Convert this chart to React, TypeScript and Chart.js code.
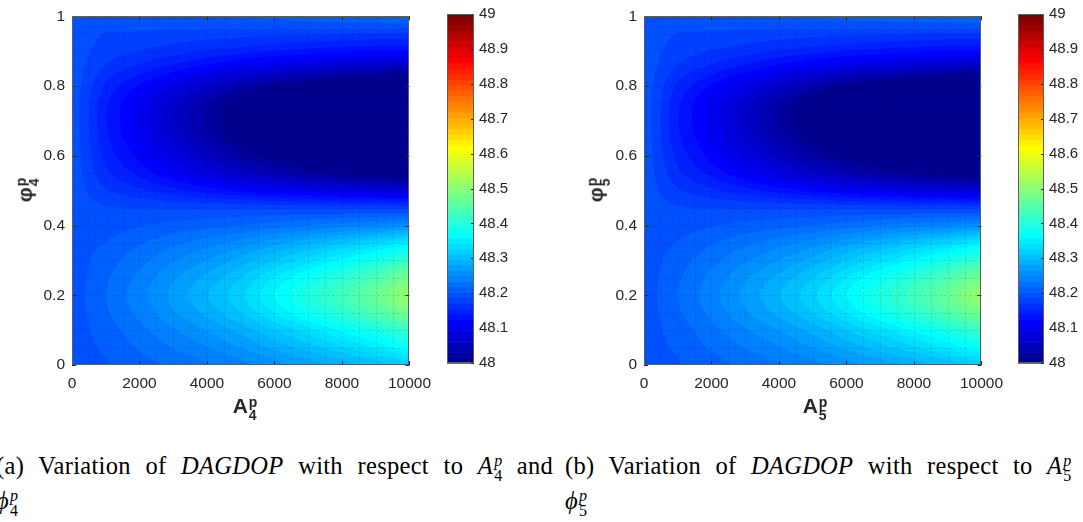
import React, { useEffect, useRef } from "react";
import { Chart, registerables } from "chart.js";

Chart.register(...registerables);

// ---------- data ----------
const A_VALUES = [0, 1000, 2000, 3000, 4000, 5000, 6000, 7000, 8000, 9000, 10000];
const PHI_VALUES = [0, 0.05, 0.1, 0.15, 0.2, 0.25, 0.3, 0.35, 0.4, 0.45, 0.5, 0.55, 0.6, 0.65, 0.7, 0.75, 0.8, 0.85, 0.9, 0.95, 1];

// DAGDOP values, one row per phi value (bottom to top), one column per A value
const DAGDOP_A = [
  [48.196, 48.202, 48.212, 48.223, 48.233, 48.245, 48.259, 48.273, 48.288, 48.303, 48.32],
  [48.196, 48.206, 48.221, 48.235, 48.249, 48.266, 48.285, 48.305, 48.325, 48.347, 48.37],
  [48.196, 48.211, 48.229, 48.248, 48.266, 48.287, 48.312, 48.337, 48.363, 48.39, 48.42],
  [48.196, 48.216, 48.239, 48.263, 48.286, 48.312, 48.344, 48.376, 48.408, 48.442, 48.48],
  [48.196, 48.219, 48.244, 48.27, 48.296, 48.324, 48.36, 48.395, 48.43, 48.468, 48.51],
  [48.196, 48.216, 48.239, 48.263, 48.286, 48.312, 48.344, 48.376, 48.408, 48.442, 48.48],
  [48.196, 48.211, 48.229, 48.248, 48.266, 48.287, 48.312, 48.337, 48.363, 48.39, 48.42],
  [48.196, 48.204, 48.217, 48.23, 48.243, 48.257, 48.275, 48.292, 48.31, 48.329, 48.35],
  [48.196, 48.196, 48.202, 48.208, 48.213, 48.219, 48.227, 48.235, 48.243, 48.251, 48.26],
  [48.196, 48.189, 48.187, 48.186, 48.185, 48.184, 48.183, 48.182, 48.181, 48.181, 48.18],
  [48.196, 48.174, 48.16, 48.147, 48.134, 48.122, 48.111, 48.102, 48.093, 48.087, 48.08],
  [48.196, 48.16, 48.136, 48.112, 48.088, 48.066, 48.046, 48.03, 48.014, 48.002, 47.99],
  [48.196, 48.151, 48.12, 48.089, 48.057, 48.029, 48.003, 47.982, 47.961, 47.946, 47.93],
  [48.196, 48.145, 48.109, 48.073, 48.037, 48.004, 47.974, 47.95, 47.926, 47.908, 47.89],
  [48.196, 48.142, 48.104, 48.065, 48.027, 47.992, 47.96, 47.934, 47.908, 47.889, 47.87],
  [48.196, 48.144, 48.106, 48.069, 48.032, 47.998, 47.967, 47.942, 47.917, 47.899, 47.88],
  [48.196, 48.153, 48.123, 48.093, 48.063, 48.035, 48.01, 47.99, 47.97, 47.955, 47.94],
  [48.196, 48.168, 48.15, 48.132, 48.114, 48.097, 48.082, 48.07, 48.058, 48.049, 48.04],
  [48.196, 48.18, 48.171, 48.163, 48.154, 48.147, 48.14, 48.134, 48.128, 48.124, 48.12],
  [48.196, 48.187, 48.185, 48.182, 48.18, 48.178, 48.176, 48.174, 48.172, 48.171, 48.17],
  [48.196, 48.197, 48.199, 48.201, 48.203, 48.205, 48.207, 48.209, 48.213, 48.216, 48.22],
];
// panel (b) reads the same as panel (a)
const DAGDOP_B = DAGDOP_A;

const MESH_A = [0, 500, 1000, 1500, 2000, 2500, 3000, 3500, 4000, 4500, 5000, 5500, 6000, 6500, 7000, 7500, 8000, 8500, 9000, 9500, 10000];
const MESH_PHI = [0, 0.05, 0.1, 0.15, 0.2, 0.25, 0.3, 0.35, 0.4, 0.45, 0.5, 0.55, 0.6, 0.65, 0.7, 0.75, 0.8, 0.85, 0.9, 0.95, 1];

const X_TICKS = [0, 2000, 4000, 6000, 8000, 10000];
const Y_TICKS = [0, 0.2, 0.4, 0.6, 0.8, 1];
const CBAR_TICKS = [48, 48.1, 48.2, 48.3, 48.4, 48.5, 48.6, 48.7, 48.8, 48.9, 49];
const C_MIN = 48;
const C_MAX = 49;

// ---------- styling ----------
const SANS = "'Liberation Sans', Arial, Helvetica, sans-serif";
const SERIF = "'Liberation Serif', 'Times New Roman', serif";
const TEXT_COLOR = "#262626";
const BOX_COLOR = "#5e5e5e";
const N_COLORS = 64;

function jet(k: number): [number, number, number] {
  const i = k + 1;
  let r = 0, g = 0, b = 0;
  if (i <= 8) b = 0.5 + 0.0625 * i;
  else if (i <= 24) b = 1;
  else if (i <= 40) b = 1 - 0.0625 * (i - 24);
  if (i >= 9 && i <= 24) g = 0.0625 * (i - 8);
  else if (i > 24 && i <= 40) g = 1;
  else if (i > 40 && i <= 56) g = 1 - 0.0625 * (i - 40);
  if (i >= 25 && i <= 40) r = 0.0625 * (i - 24);
  else if (i > 40 && i <= 56) r = 1;
  else if (i > 56) r = 1 - 0.0625 * (i - 56);
  return [Math.round(r * 255), Math.round(g * 255), Math.round(b * 255)];
}

function colorIndex(v: number) {
  let k = Math.floor(((v - C_MIN) / (C_MAX - C_MIN)) * N_COLORS);
  if (k < 0) k = 0;
  if (k > N_COLORS - 1) k = N_COLORS - 1;
  return k;
}

// locate a value inside a sorted grid: returns [cell index, fraction]
function locate(grid: number[], v: number): [number, number] {
  const n = grid.length;
  if (v <= grid[0]) return [0, 0];
  if (v >= grid[n - 1]) return [n - 2, 1];
  let i = 0;
  while (i < n - 2 && v > grid[i + 1]) i++;
  return [i, (v - grid[i]) / (grid[i + 1] - grid[i])];
}

function cr(p0: number, p1: number, p2: number, p3: number, t: number) {
  return 0.5 * (2 * p1 + (-p0 + p2) * t + (2 * p0 - 5 * p1 + 4 * p2 - p3) * t * t + (-p0 + 3 * p1 - 3 * p2 + p3) * t * t * t);
}

function sample(values: number[][], j: number, fy: number, i: number, fx: number) {
  const nr = values.length, nc = values[0].length;
  const row = (r: number) => {
    const rr = Math.min(nr - 1, Math.max(0, r));
    const v = values[rr];
    const c = (k: number) => v[Math.min(nc - 1, Math.max(0, k))];
    return cr(c(i - 1), c(i), c(i + 1), c(i + 2), fx);
  };
  return cr(row(j - 1), row(j), row(j + 1), row(j + 2), fy);
}

function heatmapPlugin(values: number[][]) {
  return {
    id: "heatmap",
    beforeDatasetsDraw(chart: any) {
      const { ctx, chartArea: ca, scales } = chart;
      const xs = scales.x, ys = scales.y;
      const W = Math.round(ca.right - ca.left);
      const H = Math.round(ca.bottom - ca.top);
      const off = document.createElement("canvas");
      off.width = W;
      off.height = H;
      const octx = off.getContext("2d")!;
      const img = octx.createImageData(W, H);
      const d = img.data;
      const colLoc: [number, number][] = [];
      for (let px = 0; px < W; px++) colLoc.push(locate(A_VALUES, xs.getValueForPixel(ca.left + px + 0.5)));
      for (let py = 0; py < H; py++) {
        const [j, fy] = locate(PHI_VALUES, ys.getValueForPixel(ca.top + py + 0.5));
        for (let px = 0; px < W; px++) {
          const [i, fx] = colLoc[px];
          const v = sample(values, j, fy, i, fx);
          const c = jet(colorIndex(v));
          const o = (py * W + px) * 4;
          d[o] = c[0]; d[o + 1] = c[1]; d[o + 2] = c[2]; d[o + 3] = 255;
        }
      }
      octx.putImageData(img, 0, 0);
      ctx.save();
      ctx.drawImage(off, ca.left, ca.top);
      ctx.restore();
    },
    afterDatasetsDraw(chart: any) {
      const { ctx, chartArea: ca, scales } = chart;
      const xs = scales.x, ys = scales.y;
      ctx.save();
      // faint mesh lines of the surface
      ctx.strokeStyle = "rgba(0,0,0,0.11)";
      ctx.lineWidth = 1;
      ctx.setLineDash([3, 2]);
      for (const a of MESH_A) {
        const px = Math.round(xs.getPixelForValue(a)) + 0.5;
        if (px <= ca.left + 1 || px >= ca.right - 1) continue;
        ctx.beginPath(); ctx.moveTo(px, ca.top); ctx.lineTo(px, ca.bottom); ctx.stroke();
      }
      for (const p of MESH_PHI) {
        const py = Math.round(ys.getPixelForValue(p)) + 0.5;
        if (py <= ca.top + 1 || py >= ca.bottom - 1) continue;
        ctx.beginPath(); ctx.moveTo(ca.left, py); ctx.lineTo(ca.right, py); ctx.stroke();
      }
      ctx.setLineDash([]);
      // inward tick marks on all four sides
      ctx.strokeStyle = "#262626";
      const TL = 4;
      for (const t of X_TICKS) {
        const px = Math.round(xs.getPixelForValue(t)) + 0.5;
        ctx.beginPath(); ctx.moveTo(px, ca.bottom); ctx.lineTo(px, ca.bottom - TL); ctx.stroke();
        ctx.beginPath(); ctx.moveTo(px, ca.top); ctx.lineTo(px, ca.top + TL); ctx.stroke();
      }
      for (const t of Y_TICKS) {
        const py = Math.round(ys.getPixelForValue(t)) + 0.5;
        ctx.beginPath(); ctx.moveTo(ca.left, py); ctx.lineTo(ca.left + TL, py); ctx.stroke();
        ctx.beginPath(); ctx.moveTo(ca.right, py); ctx.lineTo(ca.right - TL, py); ctx.stroke();
      }
      // axes box
      ctx.strokeStyle = BOX_COLOR;
      ctx.strokeRect(Math.round(ca.left) + 0.5, Math.round(ca.top) + 0.5, Math.round(ca.right - ca.left) - 1, Math.round(ca.bottom - ca.top) - 1);
      ctx.restore();
    },
  };
}

const colorbarPlugin = {
  id: "colorbar",
  beforeDatasetsDraw(chart: any) {
    const { ctx, chartArea: ca, scales } = chart;
    const ys = scales.y;
    ctx.save();
    for (let k = 0; k < N_COLORS; k++) {
      const v0 = C_MIN + ((C_MAX - C_MIN) * k) / N_COLORS;
      const v1 = C_MIN + ((C_MAX - C_MIN) * (k + 1)) / N_COLORS;
      const p0 = ys.getPixelForValue(v0);
      const p1 = ys.getPixelForValue(v1);
      const c = jet(k);
      ctx.fillStyle = `rgb(${c[0]},${c[1]},${c[2]})`;
      ctx.fillRect(ca.left, p1, ca.right - ca.left, p0 - p1 + 0.6);
    }
    ctx.strokeStyle = "#262626";
    for (const t of CBAR_TICKS) {
      const py = Math.round(ys.getPixelForValue(t)) + 0.5;
      ctx.beginPath(); ctx.moveTo(ca.right, py); ctx.lineTo(ca.right - 3, py); ctx.stroke();
    }
    ctx.strokeStyle = BOX_COLOR;
    ctx.strokeRect(Math.round(ca.left) + 0.5, Math.round(ca.top) + 0.5, Math.round(ca.right - ca.left) - 1, Math.round(ca.bottom - ca.top) - 1);
    ctx.restore();
  },
};

const tickFont = { family: SANS, size: 15.5 };

function HeatmapCanvas({ values, left, width, rightPad }: { values: number[][]; left: number; width: number; rightPad: number }) {
  const ref = useRef<HTMLCanvasElement>(null);
  useEffect(() => {
    const chart = new Chart(ref.current!, {
      type: "scatter",
      data: { datasets: [] },
      plugins: [heatmapPlugin(values)],
      options: {
        responsive: false,
        animation: false,
        events: [],
        layout: { padding: { top: 11, left: 0, right: rightPad, bottom: 0 } },
        plugins: { legend: { display: false }, tooltip: { enabled: false } },
        scales: {
          x: {
            type: "linear",
            min: 0,
            max: 10000,
            afterBuildTicks: (s: any) => { s.ticks = X_TICKS.map((v) => ({ value: v })); },
            afterFit: (s: any) => { s.height = 65; },
            grid: { display: false, drawTicks: false },
            border: { display: false },
            ticks: { font: tickFont, color: TEXT_COLOR, padding: 9, maxRotation: 0, autoSkip: false, callback: (v: any) => String(v) },
          },
          y: {
            type: "linear",
            min: 0,
            max: 1,
            afterBuildTicks: (s: any) => { s.ticks = Y_TICKS.map((v) => ({ value: v })); },
            afterFit: (s: any) => { s.width = 72; },
            grid: { display: false, drawTicks: false },
            border: { display: false },
            ticks: { font: tickFont, color: TEXT_COLOR, padding: 7, autoSkip: false, callback: (v: any) => String(v) },
          },
        },
      } as any,
    });
    return () => chart.destroy();
  }, []);
  return <canvas ref={ref} width={width} height={430} style={{ position: "absolute", left, top: 0 }} />;
}

function ColorbarCanvas({ left, width, barWidth }: { left: number; width: number; barWidth: number }) {
  const ref = useRef<HTMLCanvasElement>(null);
  useEffect(() => {
    const chart = new Chart(ref.current!, {
      type: "scatter",
      data: { datasets: [] },
      plugins: [colorbarPlugin],
      options: {
        responsive: false,
        animation: false,
        events: [],
        layout: { padding: { top: 10, left: 7, right: 0, bottom: 67 } },
        plugins: { legend: { display: false }, tooltip: { enabled: false } },
        scales: {
          x: { type: "linear", min: 0, max: 1, display: false },
          y: {
            type: "linear",
            position: "right",
            min: C_MIN,
            max: C_MAX,
            afterBuildTicks: (s: any) => { s.ticks = CBAR_TICKS.map((v) => ({ value: v })); },
            afterFit: (s: any) => { s.width = width - 7 - barWidth; },
            grid: { display: false, drawTicks: false },
            border: { display: false },
            ticks: { font: { family: SANS, size: 15 }, color: TEXT_COLOR, padding: 5, autoSkip: false, callback: (v: any) => String(v) },
          },
        },
      } as any,
    });
    return () => chart.destroy();
  }, []);
  return <canvas ref={ref} width={width} height={430} style={{ position: "absolute", left, top: 0 }} />;
}

function Stack({ sup, sub, size, shift }: { sup: React.ReactNode; sub: React.ReactNode; size: number; shift: number }) {
  return (
    <span style={{ display: "inline-block", fontSize: size, lineHeight: `${size * 0.95}px`, verticalAlign: shift, textAlign: "left", marginLeft: 1, letterSpacing: 0 }}>
      <span style={{ display: "block" }}>{sup}</span>
      <span style={{ display: "block" }}>{sub}</span>
    </span>
  );
}

function AxisTitleX({ cx, label, sub }: { cx: number; label: string; sub: string }) {
  return (
    <div style={{ position: "absolute", left: cx, top: 394, transform: "translateX(-50%)", fontFamily: SANS, fontWeight: "bold", fontSize: 21, color: TEXT_COLOR, whiteSpace: "nowrap", lineHeight: "24px" }}>
      {label}
      <Stack sup="p" sub={sub} size={14} shift={-7} />
    </div>
  );
}

function AxisTitleY({ cx, cy, sub }: { cx: number; cy: number; sub: string }) {
  return (
    <div style={{ position: "absolute", left: cx, top: cy, transform: "translate(-50%,-50%) rotate(-90deg)", fontFamily: SANS, fontWeight: "bold", fontSize: 21, color: TEXT_COLOR, whiteSpace: "nowrap", lineHeight: "24px" }}>
      φ
      <Stack sup="p" sub={sub} size={14} shift={-7} />
    </div>
  );
}

function Caption({ left, tag, sub }: { left: number; tag: string; sub: string }) {
  const base: React.CSSProperties = { position: "absolute", left, width: 557, fontFamily: SERIF, fontSize: 24.5, lineHeight: "28px", letterSpacing: 0.3, color: "#000", whiteSpace: "nowrap" };
  return (
    <>
      <div style={{ ...base, top: 452, textAlign: "justify", textAlignLast: "justify" } as React.CSSProperties}>
        ({tag}) Variation of <i>DAGDOP</i> with respect to <i>A</i>
        <Stack sup={<i>p</i>} sub={sub} size={16} shift={-7} /> and
      </div>
      <div style={{ ...base, top: 487 }}>
        <i>ϕ</i>
        <Stack sup={<i>p</i>} sub={sub} size={16} shift={-7} />
      </div>
    </>
  );
}

export default function App() {
  return (
    <div style={{ position: "absolute", left: 0, top: 0, width: 1083, height: 522, overflow: "hidden", background: "#fff" }}>
      <HeatmapCanvas values={DAGDOP_A} left={0} width={440} rightPad={28} />
      <ColorbarCanvas left={440} width={80} barWidth={27} />
      <HeatmapCanvas values={DAGDOP_B} left={572} width={440} rightPad={30} />
      <ColorbarCanvas left={1011} width={72} barWidth={26} />
      <AxisTitleX cx={245} label="A" sub="4" />
      <AxisTitleX cx={815} label="A" sub="5" />
      <AxisTitleY cx={27} cy={190} sub="4" />
      <AxisTitleY cx={598} cy={190} sub="5" />
      <Caption left={-4} tag="a" sub="4" />
      <Caption left={565} tag="b" sub="5" />
    </div>
  );
}
